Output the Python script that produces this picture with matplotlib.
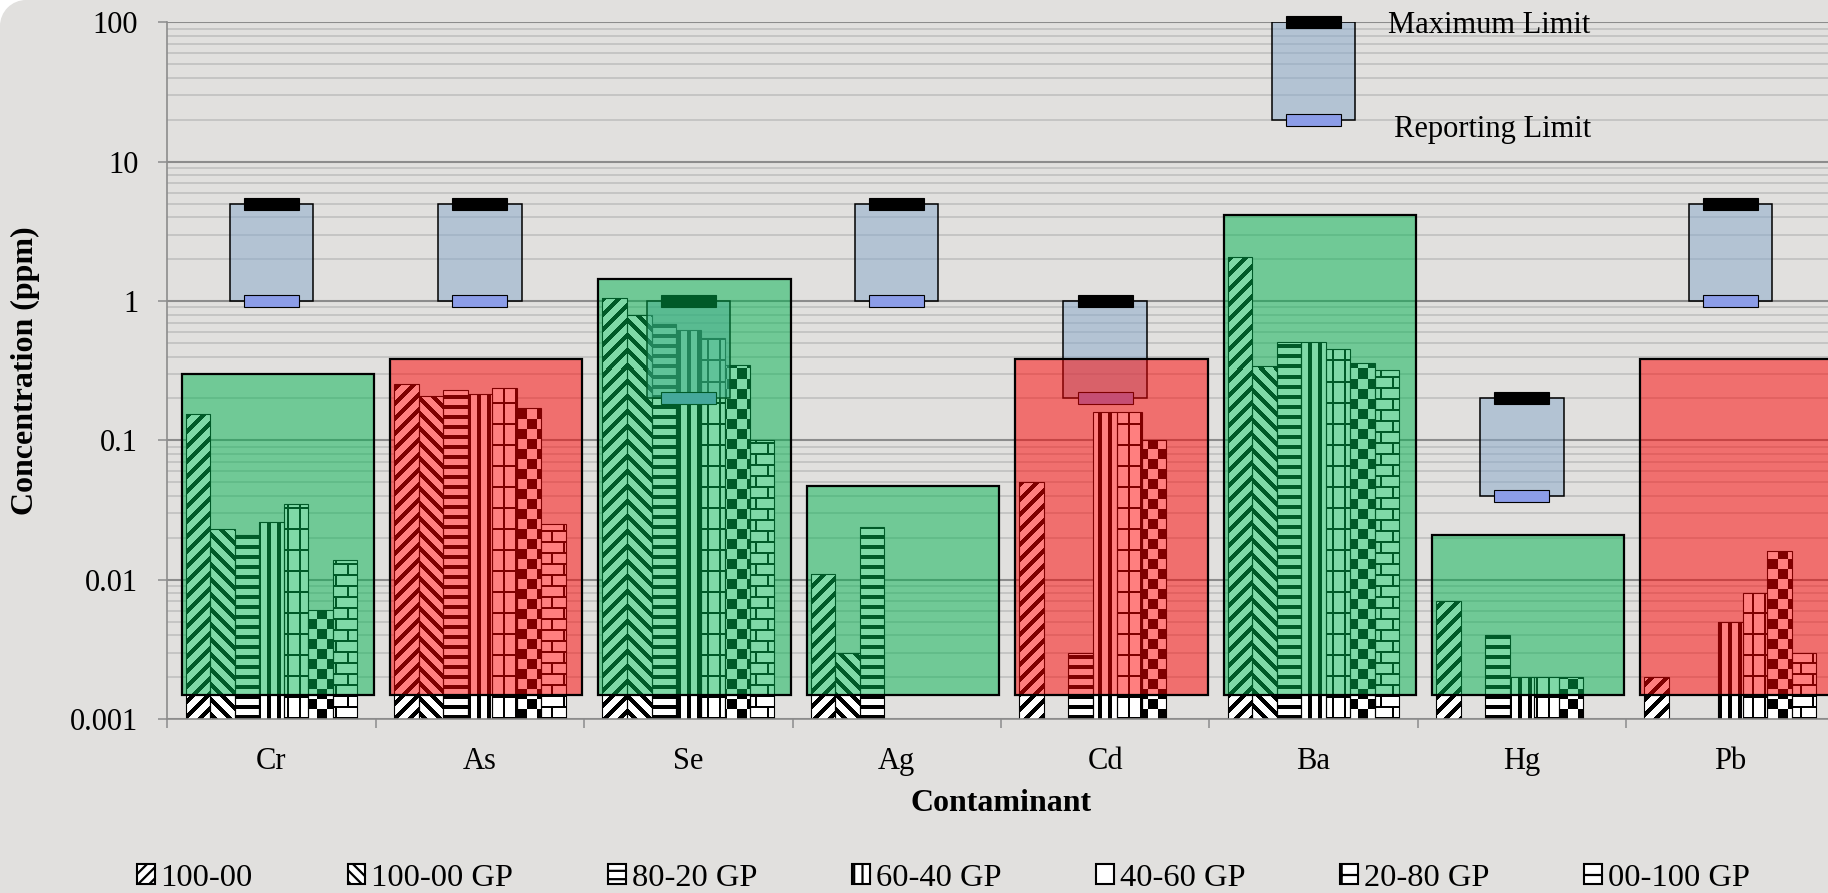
import numpy as np
import matplotlib

matplotlib.use("Agg")

import matplotlib.pyplot as plt
from matplotlib.colors import ListedColormap
from matplotlib.patches import Patch, Wedge
from matplotlib.path import Path
from matplotlib.ticker import LogLocator, NullFormatter

nan = np.nan

contaminants = ["Cr", "As", "Se", "Ag", "Cd", "Ba", "Hg", "Pb"]
blends = ["100-00", "100-00 GP", "80-20 GP", "60-40 GP", "40-60 GP", "20-80 GP", "00-100 GP"]

# leachate concentration (ppm) per blend, one value per contaminant (nan = not detected)
c_100_00 = [0.155, 0.256, 1.06, 0.011, 0.050, 2.08, 0.007, 0.002]
c_100_00_gp = [0.023, 0.207, 0.80, 0.003, nan, 0.34, nan, nan]
c_80_20_gp = [0.021, 0.232, 0.68, 0.024, 0.003, 0.51, 0.004, nan]
c_60_40_gp = [0.026, 0.215, 0.62, nan, 0.161, 0.51, 0.002, 0.005]
c_40_60_gp = [0.035, 0.237, 0.54, nan, 0.161, 0.45, 0.002, 0.008]
c_20_80_gp = [0.0061, 0.171, 0.35, nan, 0.100, 0.36, 0.002, 0.016]
c_00_100_gp = [0.014, 0.025, 0.10, nan, nan, 0.32, nan, 0.003]

# shaded envelope per contaminant and whether it passes
envelope_top = [0.30, 0.383, 1.45, 0.047, 0.383, 4.15, 0.021, 0.383]
envelope_ok = [True, False, True, True, False, True, True, False]

# regulatory limits (ppm); the Ba box carries the key labels
reporting_limit = [1.0, 1.0, 0.2, 1.0, 0.2, 20.0, 0.04, 1.0]
maximum_limit = [5.0, 5.0, 1.0, 5.0, 1.0, 100.0, 0.2, 5.0]

decades = [0.001, 0.01, 0.1, 1, 10, 100]
decade_labels = ["0.001", "0.01", "0.1", "1", "10", "100"]

series = [c_100_00, c_100_00_gp, c_80_20_gp, c_60_40_gp, c_40_60_gp, c_20_80_gp, c_00_100_gp]
textures = ["up", "down", "hstripe", "vstripe", "grid", "checker", "brick"]
legend_hatch = ["///", "\\\\\\", "--", "||", "", "+", "-"]

FLOOR = 0.001
ENV_BASE = 0.0015
BG = "#e1e0de"
AXIS_GRAY = "#8c8c8c"
KEY = 5


def pattern(kind, h, w):
    i, j = np.mgrid[0:h, 0:w]
    if kind == "up":
        return ((j - i) % 15) < 6
    if kind == "down":
        return ((j + i) % 15) < 6
    if kind == "hstripe":
        return (i % 10) < 4
    if kind == "vstripe":
        return (j % 10) < 4
    if kind == "grid":
        return ((i % 21) < 2) | ((j % 12) < 2)
    if kind == "checker":
        return ((i // 10 + j // 10) % 2) == 1
    row = i // 11
    return ((i % 11) < 2) | (((j + 12 * (row % 2)) % 24) < 2)


def bars_path(container):
    paths = [p.get_path().transformed(p.get_patch_transform()) for p in container.patches]
    return Path.make_compound_path(*paths)


plt.rcParams["font.family"] = ["Liberation Serif", "DejaVu Serif"]
plt.rcParams["font.size"] = 22
plt.rcParams["hatch.linewidth"] = 1.6

fig = plt.figure(figsize=(18.28, 8.93), dpi=100, facecolor=BG)
ax = fig.add_axes([0.09152, 0.19451, 0.91204, 0.78063])
ax.set_facecolor("none")
ax.set_yscale("log")
ax.set_xlim(-0.5, 7.5)
ax.set_ylim(FLOOR, 100)

x = np.arange(len(contaminants))
bar_w = 0.1177
px_h, px_w = int(round(ax.bbox.height)), int(round(ax.bbox.width))
bw = ListedColormap(["white", "black"])

# patterned bars: outline from ax.bar, fill texture clipped to the same rectangles
for k, (vals, kind) in enumerate(zip(series, textures)):
    vals = np.asarray(vals)
    ok = ~np.isnan(vals)
    xs = x[ok] + (k - 3) * bar_w
    bars = ax.bar(xs, vals[ok] - FLOOR, bottom=FLOOR, width=bar_w,
                  facecolor="none", edgecolor="black", linewidth=0.8, zorder=2.1)
    img = ax.imshow(pattern(kind, px_h, px_w).astype(float), cmap=bw, vmin=0, vmax=1,
                    origin="lower", extent=(0, 1, 0, 1), transform=ax.transAxes,
                    interpolation="nearest", aspect="auto", zorder=2)
    img.set_clip_path(bars_path(bars), ax.transData)

# limit boxes with caps at the maximum and reporting limits
cap_lo, cap_hi = 10 ** -0.043, 10 ** 0.043
rl = np.asarray(reporting_limit)
mx = np.asarray(maximum_limit)
ax.bar(x, mx - rl, bottom=rl, width=0.40, facecolor=(135 / 255, 168 / 255, 202 / 255, 0.5),
       edgecolor="black", linewidth=1.1, zorder=2.3)
ax.bar(x, mx * (cap_hi - cap_lo), bottom=mx * cap_lo, width=0.264, color="black",
       edgecolor="black", linewidth=0.8, zorder=2.4, clip_on=False)
ax.bar(x, rl * (cap_hi - cap_lo), bottom=rl * cap_lo, width=0.264, facecolor="#8c9de8",
       edgecolor="black", linewidth=0.8, zorder=2.4)

ax.annotate("Maximum Limit", xy=(KEY + 0.845, maximum_limit[KEY]), xytext=(0, -8),
            textcoords="offset points", ha="center", va="baseline", annotation_clip=False)
ax.annotate("Reporting Limit", xy=(KEY + 0.857, reporting_limit[KEY]), xytext=(0, -12.2),
            textcoords="offset points", ha="center", va="baseline", annotation_clip=False)

# translucent pass / fail envelopes over everything above the base line
env_colors = [(0, 0.706, 0.314, 0.5) if good else (1, 0, 0, 0.5) for good in envelope_ok]
ax.bar(x + 0.0305, np.asarray(envelope_top) - ENV_BASE, bottom=ENV_BASE, width=0.923,
       color=env_colors, edgecolor="black", linewidth=1.6, zorder=3)

ax.set_xlim(-0.5, 7.5)
ax.set_ylim(FLOOR, 100)

# axes styling
ax.set_axisbelow(True)
ax.set_yticks(decades, decade_labels)
ax.yaxis.set_minor_locator(LogLocator(base=10, subs=np.arange(2, 10)))
ax.yaxis.set_minor_formatter(NullFormatter())
ax.grid(which="major", axis="y", color=AXIS_GRAY, linewidth=1.5)
ax.grid(which="minor", axis="y", color="#bdbdbd", linewidth=1.1)
ax.tick_params(axis="y", which="major", direction="out", length=6.5, width=1.1,
               color=AXIS_GRAY, pad=14.4)
ax.tick_params(axis="y", which="minor", length=0)

ax.set_xticks(np.arange(-0.5, 8, 1), [])
ax.set_xticks(x, contaminants, minor=True)
ax.tick_params(axis="x", which="major", direction="out", length=6.5, width=1.1, color=AXIS_GRAY)
ax.tick_params(axis="x", which="minor", length=0, pad=20)

for side in ("top", "right"):
    ax.spines[side].set_visible(False)
for side in ("left", "bottom"):
    ax.spines[side].set_color(AXIS_GRAY)
    ax.spines[side].set_linewidth(1.2)

ax.set_ylabel("Concentration (ppm)", fontweight="bold", fontsize=23, va="center")
ax.yaxis.set_label_coords(-0.0848, 0.5)
ax.set_xlabel("Contaminant", fontweight="bold", fontsize=23, va="center")
ax.xaxis.set_label_coords(0.5, -0.121)

handles = [Patch(facecolor="white", edgecolor="black", linewidth=1.5, hatch=h) for h in legend_hatch]
fig.legend(handles, blends, loc="center", bbox_to_anchor=(0.516, 0.0165), ncol=7, frameon=False,
           fontsize=23.4, columnspacing=2.92, handletextpad=0.18, handlelength=0.55,
           handleheight=0.55, borderaxespad=0, borderpad=0)

# rounded chart-area corner
r = 0.26
fig.add_artist(Wedge((r, 8.93 - r), 1.6 * r, 90, 180, width=0.6 * r,
                     transform=fig.dpi_scale_trans, facecolor="white", edgecolor="none"))

fig.savefig("out.png", dpi=100, facecolor=fig.get_facecolor())
